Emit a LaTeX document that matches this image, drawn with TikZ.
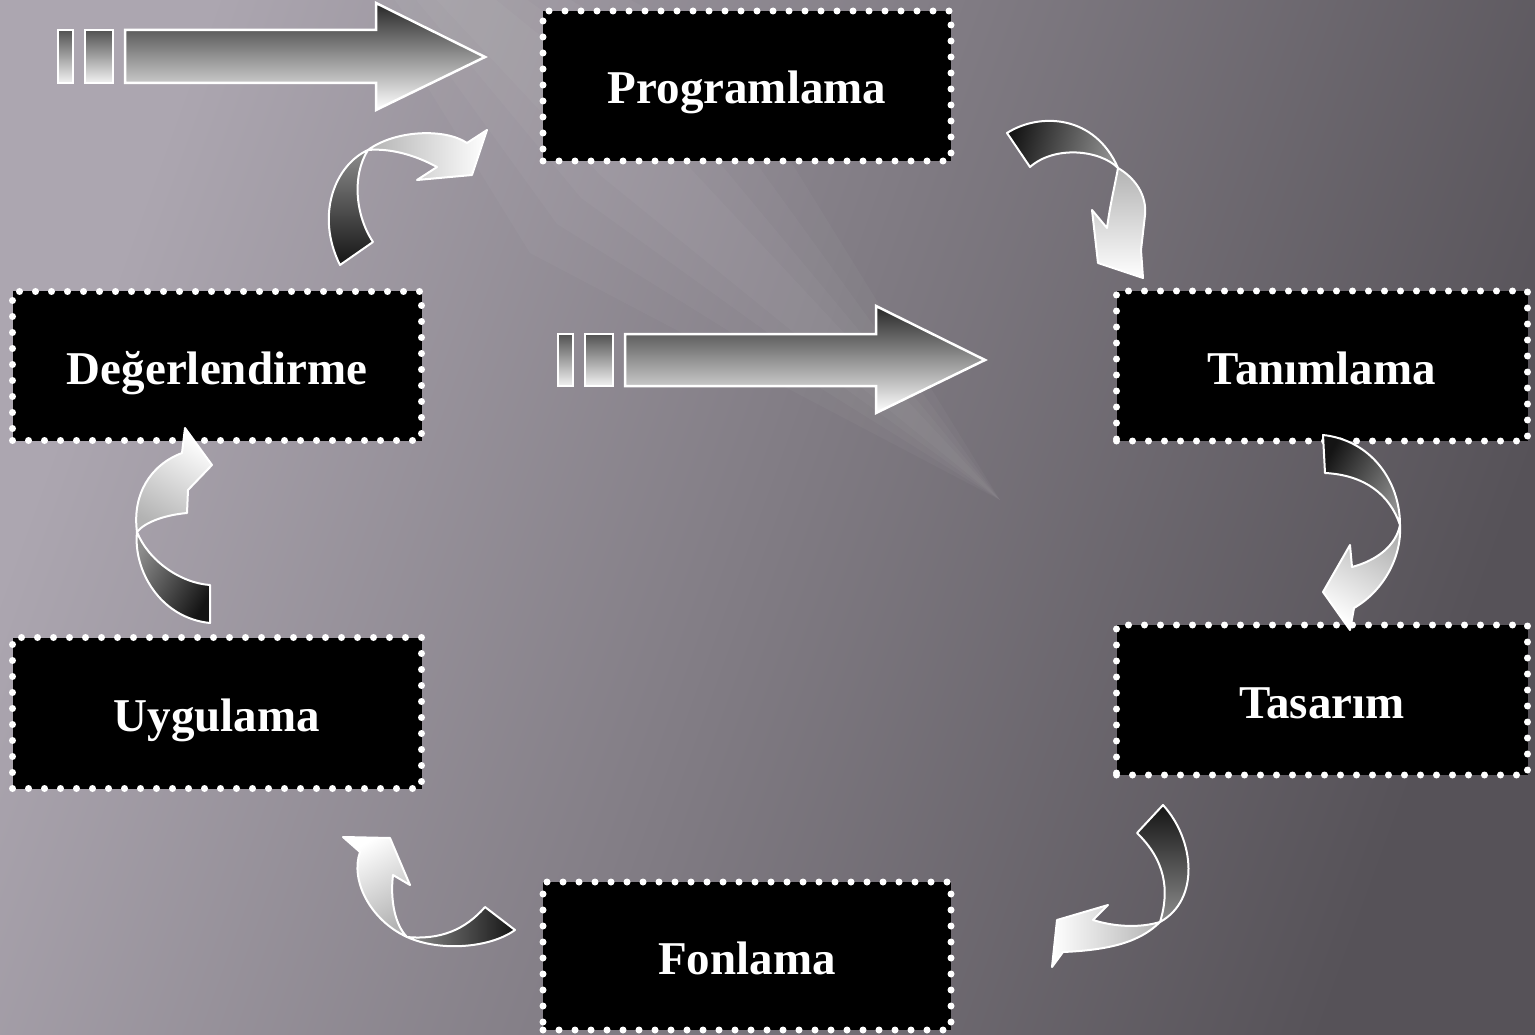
\documentclass[tikz,border=0pt]{standalone}
\usepackage{fontspec}
\setmainfont{Liberation Serif}
\definecolor{bgL}{RGB}{172,166,176}
\definecolor{bgR}{RGB}{86,82,88}
\begin{document}
\begin{tikzpicture}[x=1pt,y=-1pt,
  boxstyle/.style={fill=black, draw=white, line width=7pt, dash pattern=on 0pt off 16pt, line cap=round,
    minimum width=408pt, minimum height=150pt, inner sep=0pt, text=white,
    font=\fontsize{47}{56}\selectfont\bfseries, text height=36pt, text depth=0pt},
  darkpart/.style={draw=white, line width=2pt, line join=round, top color=black!92, bottom color=black!45, shading angle=#1},
  lightpart/.style={draw=white, line width=2pt, line join=round, top color=black!30, bottom color=white, shading angle=#1},
  bigarrow/.style={draw=white, line width=2.5pt, line join=miter, top color=black!85, bottom color=white},
  barstyle/.style={draw=white, line width=2.5pt, top color=black!68, bottom color=white!95!black},
  streak/.style={white, opacity=0.03}]

% background
\shade[left color=bgL, right color=bgR, shading angle=70] (0,0) rectangle (1535,1035);
\useasboundingbox (0,0) rectangle (1535,1035);
\begin{scope}
\clip (0,0) rectangle (1535,1035);
\fill[streak] (250,-200) -- (530,253) -- (1000,500) -- (720,47) -- cycle;
\fill[streak] (250,-200) -- (557,224) -- (1000,500) -- (693,76) -- cycle;
\fill[streak] (250,-200) -- (581,198) -- (1000,500) -- (669,102) -- cycle;
\fill[streak] (250,-200) -- (601,176) -- (1000,500) -- (649,124) -- cycle;
\end{scope}

% boxes
\node[boxstyle] (prog) at (747,86)  {Programlama};
\node[boxstyle, minimum width=411pt] (tanim) at (1322,366) {Tanımlama};
\node[boxstyle, minimum width=411pt] (tasar) at (1322,700) {Tasarım};
\node[boxstyle, minimum height=148pt] (fon) at (747,956) {Fonlama};
\node[boxstyle, minimum width=409pt, minimum height=151pt] (uyg) at (217,713) {Uygulama};
\node[boxstyle, minimum width=409pt, minimum height=149pt] (deger) at (217,366) {Değerlendirme};

% straight arrow 1
\path[barstyle] (58,30) rectangle (73,83);
\path[barstyle] (85,30) rectangle (113,83);
\path[bigarrow] (125,30) -- (376,30) -- (376,3) -- (485,57) -- (376,110) -- (376,83) -- (125,83) -- cycle;

% straight arrow 2
\path[barstyle] (558,334) rectangle (573,386);
\path[barstyle] (585,334) rectangle (613,386);
\path[bigarrow] (625,334) -- (876,334) -- (876,306) -- (985,360) -- (876,413) -- (876,386) -- (625,386) -- cycle;

% curved arrow A (Programlama -> Tanimlama)
\path[darkpart=75] (1007,133) .. controls (1040,112) and (1095,115) .. (1118,168)
   .. controls (1100,150) and (1055,145) .. (1030,167) -- cycle;
\path[lightpart=0] (1118,168) .. controls (1135,178) and (1147,195) .. (1145,215) -- (1141,250) -- (1143,278)
   -- (1098,263) -- (1092,210) -- (1107,228) .. controls (1110,205) and (1115,185) .. (1118,168) -- cycle;

% curved arrow B (Tanimlama -> Tasarim)
\path[darkpart=60] (1323,435) .. controls (1370,440) and (1400,480) .. (1400,525)
   .. controls (1390,495) and (1365,475) .. (1325,473) -- cycle;
\path[lightpart=-30] (1400,525) .. controls (1402,555) and (1385,590) .. (1354,608) -- (1350,630) -- (1323,592)
   -- (1350,545) -- (1352,567) .. controls (1378,560) and (1396,545) .. (1400,525) -- cycle;

% curved arrow C (Tasarim -> Fonlama)
\path[darkpart=0] (1163,805) .. controls (1195,840) and (1200,900) .. (1160,922)
   .. controls (1170,890) and (1165,860) .. (1137,833) -- cycle;
\path[lightpart=-90] (1160,922) .. controls (1140,942) and (1110,950) .. (1063,952) -- (1052,967) -- (1057,920)
   -- (1108,905) -- (1093,920) .. controls (1115,927) and (1140,928) .. (1160,922) -- cycle;

% curved arrow D (Fonlama -> Uygulama)
\path[darkpart=-90] (485,907) .. controls (465,930) and (440,940) .. (407,937)
   .. controls (440,952) and (490,948) .. (515,930) -- cycle;
\path[lightpart=-150] (407,937) .. controls (370,920) and (350,880) .. (360,852) -- (343,837) -- (390,838)
   -- (410,885) -- (393,875) .. controls (390,900) and (395,925) .. (407,937) -- cycle;

% curved arrow E (Uygulama -> Degerlendirme)
\path[darkpart=-120] (137,532) .. controls (133,570) and (160,618) .. (210,623) -- (210,585)
   .. controls (180,583) and (148,560) .. (137,532) -- cycle;
\path[lightpart=150] (137,532) .. controls (132,495) and (150,465) .. (182,453) -- (185,428) -- (212,465)
   -- (188,490) -- (187,513) .. controls (165,515) and (145,522) .. (137,532) -- cycle;

% curved arrow F (Degerlendirme -> Programlama)
\path[darkpart=-180] (368,150) .. controls (335,165) and (315,215) .. (340,265) -- (373,242)
   .. controls (355,215) and (352,175) .. (368,150) -- cycle;
\path[lightpart=90] (368,150) .. controls (395,130) and (445,128) .. (467,143) -- (487,130) -- (472,175)
   -- (417,180) -- (437,167) .. controls (415,155) and (390,148) .. (368,150) -- cycle;
\end{tikzpicture}
\end{document}
